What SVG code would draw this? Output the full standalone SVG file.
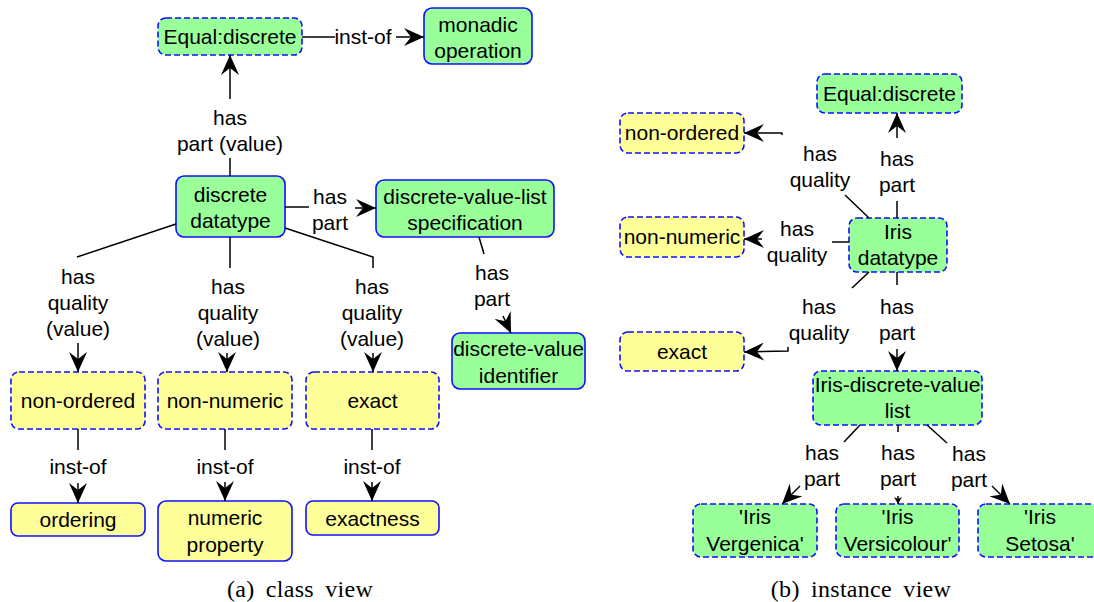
<svg xmlns="http://www.w3.org/2000/svg" width="1094" height="602" viewBox="0 0 1094 602">
  <defs>
    <marker id="arrow" markerUnits="userSpaceOnUse" markerWidth="22" markerHeight="18" refX="20" refY="9" orient="auto">
      <path d="M0,0 L20,9 L0,18 L7,9 Z" fill="#000"/>
    </marker>
    <marker id="arrow-sm" markerUnits="userSpaceOnUse" markerWidth="8" markerHeight="8" refX="7" refY="4" orient="auto">
      <path d="M0,0 L7,4 L0,8 L2,4 Z" fill="#000"/>
    </marker>
  </defs>
  <style>
    .box { fill: #99ff99; stroke: #1010ff; stroke-width: 1.6; }
    .qual { fill: #ffff99; }
    .inst { stroke-dasharray: 6 3; }
    text { font-family: "Liberation Sans", Arial, sans-serif; font-size: 21px; text-anchor: middle; fill: #000; }
    .edge { stroke: #000; stroke-width: 1.5; fill: none; }
    .arr { marker-end: url(#arrow); }
    .cap { font-family: "Liberation Serif", "Times New Roman", serif; font-size: 24px; word-spacing: 5px; letter-spacing: 0.3px; }
  </style>
  <rect width="1094" height="602" fill="#fff"/>

  <!-- (a) class view: nodes -->
  <g id="a-equal-discrete">
    <rect class="box inst" x="158" y="18" width="144" height="37" rx="8"/>
    <text x="230" y="44">Equal:discrete</text>
  </g>
  <g id="a-monadic-operation">
    <rect class="box" x="424" y="8" width="108" height="56" rx="8"/>
    <text x="478" y="32">monadic</text>
    <text x="478" y="58">operation</text>
  </g>
  <g id="a-discrete-datatype">
    <rect class="box" x="176" y="176" width="109" height="61" rx="8"/>
    <text x="230.5" y="202">discrete</text>
    <text x="230.5" y="228">datatype</text>
  </g>
  <g id="a-value-list-spec">
    <rect class="box" x="376" y="180" width="178" height="57" rx="8"/>
    <text x="465" y="204">discrete-value-list</text>
    <text x="465" y="230">specification</text>
  </g>
  <g id="a-value-identifier">
    <rect class="box" x="452" y="333" width="133" height="56" rx="8"/>
    <text x="518.5" y="356">discrete-value</text>
    <text x="518.5" y="383">identifier</text>
  </g>
  <g id="a-non-ordered">
    <rect class="box qual inst" x="11" y="372" width="134" height="57" rx="8"/>
    <text x="78" y="408">non-ordered</text>
  </g>
  <g id="a-non-numeric">
    <rect class="box qual inst" x="158" y="372" width="134" height="57" rx="8"/>
    <text x="225" y="408">non-numeric</text>
  </g>
  <g id="a-exact">
    <rect class="box qual inst" x="306" y="372" width="133" height="57" rx="8"/>
    <text x="372.5" y="408">exact</text>
  </g>
  <g id="a-ordering">
    <rect class="box qual" x="11" y="503" width="134" height="33" rx="7"/>
    <text x="78" y="527">ordering</text>
  </g>
  <g id="a-numeric-property">
    <rect class="box qual" x="158" y="501" width="134" height="60" rx="8"/>
    <text x="225" y="525">numeric</text>
    <text x="225" y="552">property</text>
  </g>
  <g id="a-exactness">
    <rect class="box qual" x="306" y="501" width="133" height="34" rx="7"/>
    <text x="372.5" y="526">exactness</text>
  </g>

  <!-- (b) instance view: nodes -->
  <g id="b-equal-discrete">
    <rect class="box inst" x="817" y="74" width="145" height="39" rx="8"/>
    <text x="889.5" y="101">Equal:discrete</text>
  </g>
  <g id="b-non-ordered">
    <rect class="box qual inst" x="620" y="113" width="124" height="40" rx="8"/>
    <text x="682" y="140">non-ordered</text>
  </g>
  <g id="b-non-numeric">
    <rect class="box qual inst" x="620" y="217" width="124" height="40" rx="8"/>
    <text x="682" y="244">non-numeric</text>
  </g>
  <g id="b-iris-datatype">
    <rect class="box inst" x="849" y="218" width="98" height="54" rx="8"/>
    <text x="898" y="239">Iris</text>
    <text x="898" y="265">datatype</text>
  </g>
  <g id="b-exact">
    <rect class="box qual inst" x="620" y="332" width="124" height="39" rx="8"/>
    <text x="682" y="359">exact</text>
  </g>
  <g id="b-iris-value-list">
    <rect class="box inst" x="813" y="371" width="169" height="54" rx="8"/>
    <text x="897.5" y="392">Iris-discrete-value</text>
    <text x="897.5" y="418">list</text>
  </g>
  <g id="b-vergenica">
    <rect class="box inst" x="693" y="504" width="124" height="53" rx="8"/>
    <text x="755" y="524">'Iris</text>
    <text x="755" y="551">Vergenica'</text>
  </g>
  <g id="b-versicolour">
    <rect class="box inst" x="836" y="504" width="123" height="53" rx="8"/>
    <text x="897.5" y="524">'Iris</text>
    <text x="897.5" y="551">Versicolour'</text>
  </g>
  <g id="b-setosa">
    <rect class="box inst" x="978" y="504" width="124" height="53" rx="8"/>
    <text x="1040" y="524">'Iris</text>
    <text x="1040" y="551">Setosa'</text>
  </g>

  <!-- connectors -->
  <g id="connectors">
    <!-- class view -->
    <line class="edge" x1="302" y1="37" x2="335" y2="37"/>
    <line class="edge arr" x1="396" y1="37" x2="424" y2="37"/>
    <text x="363" y="44">inst-of</text>

    <line class="edge" x1="230" y1="176" x2="230" y2="158"/>
    <line class="edge arr" x1="230" y1="99" x2="230" y2="55"/>
    <text x="230" y="125">has</text>
    <text x="230" y="151">part (value)</text>

    <line class="edge" x1="285" y1="207" x2="309" y2="207"/>
    <line class="edge arr" x1="355" y1="208" x2="376" y2="208"/>
    <text x="330" y="204">has</text>
    <text x="330" y="230">part</text>

    <line class="edge" x1="479" y1="237" x2="484" y2="254"/>
    <line class="edge arr" x1="503" y1="316" x2="511" y2="333"/>
    <text x="492" y="280">has</text>
    <text x="492" y="306">part</text>

    <line class="edge" x1="176" y1="224" x2="77" y2="257"/>
    <line class="edge arr" x1="78" y1="343" x2="78" y2="372"/>
    <text x="78" y="284">has</text>
    <text x="78" y="310">quality</text>
    <text x="78" y="336">(value)</text>

    <line class="edge" x1="230" y1="237" x2="230" y2="268"/>
    <line class="edge arr" x1="227" y1="353" x2="227" y2="372"/>
    <text x="228" y="294">has</text>
    <text x="228" y="320">quality</text>
    <text x="228" y="346">(value)</text>

    <polyline class="edge" points="285,228 373,257 373,268"/>
    <line class="edge arr" x1="373" y1="353" x2="373" y2="372"/>
    <text x="372" y="294">has</text>
    <text x="372" y="320">quality</text>
    <text x="372" y="346">(value)</text>

    <line class="edge" x1="78" y1="429" x2="78" y2="450"/>
    <line class="edge arr" x1="78" y1="483" x2="78" y2="503"/>
    <text x="78" y="474">inst-of</text>

    <line class="edge" x1="225" y1="429" x2="225" y2="450"/>
    <line class="edge arr" x1="225" y1="482" x2="225" y2="501"/>
    <text x="225" y="474">inst-of</text>

    <line class="edge" x1="372" y1="429" x2="372" y2="450"/>
    <line class="edge arr" x1="372" y1="482" x2="372" y2="501"/>
    <text x="372" y="474">inst-of</text>

    <!-- instance view -->
    <line class="edge" x1="897" y1="218" x2="897" y2="201"/>
    <line class="edge arr" x1="897" y1="138" x2="897" y2="113"/>
    <text x="897" y="166">has</text>
    <text x="897" y="192">part</text>

    <line class="edge" x1="869" y1="218" x2="845" y2="195"/>
    <polyline class="edge arr" points="782,135 782,133 744,133"/>
    <text x="820" y="161">has</text>
    <text x="820" y="187">quality</text>

    <line class="edge" x1="849" y1="242" x2="832" y2="242"/>
    <line class="edge arr" x1="762" y1="239" x2="744" y2="239"/>
    <text x="797" y="236">has</text>
    <text x="797" y="262">quality</text>

    <line class="edge" x1="869" y1="272" x2="852" y2="288"/>
    <polyline class="edge arr" points="788,347 788,351 744,352"/>
    <text x="819" y="314">has</text>
    <text x="819" y="340">quality</text>

    <line class="edge" x1="897" y1="272" x2="897" y2="285"/>
    <line class="edge arr" x1="897" y1="349" x2="897" y2="371"/>
    <text x="897" y="314">has</text>
    <text x="897" y="340">part</text>

    <line class="edge" x1="860" y1="425" x2="844" y2="442"/>
    <line class="edge arr" x1="800" y1="486" x2="782" y2="504"/>
    <text x="822" y="460">has</text>
    <text x="822" y="486">part</text>

    <line class="edge" x1="898" y1="425" x2="898" y2="432"/>
    <line class="edge" x1="898" y1="496" x2="898" y2="504" marker-end="url(#arrow-sm)"/>
    <text x="898" y="460">has</text>
    <text x="898" y="486">part</text>

    <line class="edge" x1="927" y1="425" x2="947" y2="443"/>
    <line class="edge arr" x1="992" y1="486" x2="1010" y2="504"/>
    <text x="969" y="461">has</text>
    <text x="969" y="487">part</text>
  </g>

  <!-- sub-figure captions -->
  <text class="cap" x="300" y="597">(a) class view</text>
  <text class="cap" x="861" y="597">(b) instance view</text>
</svg>
